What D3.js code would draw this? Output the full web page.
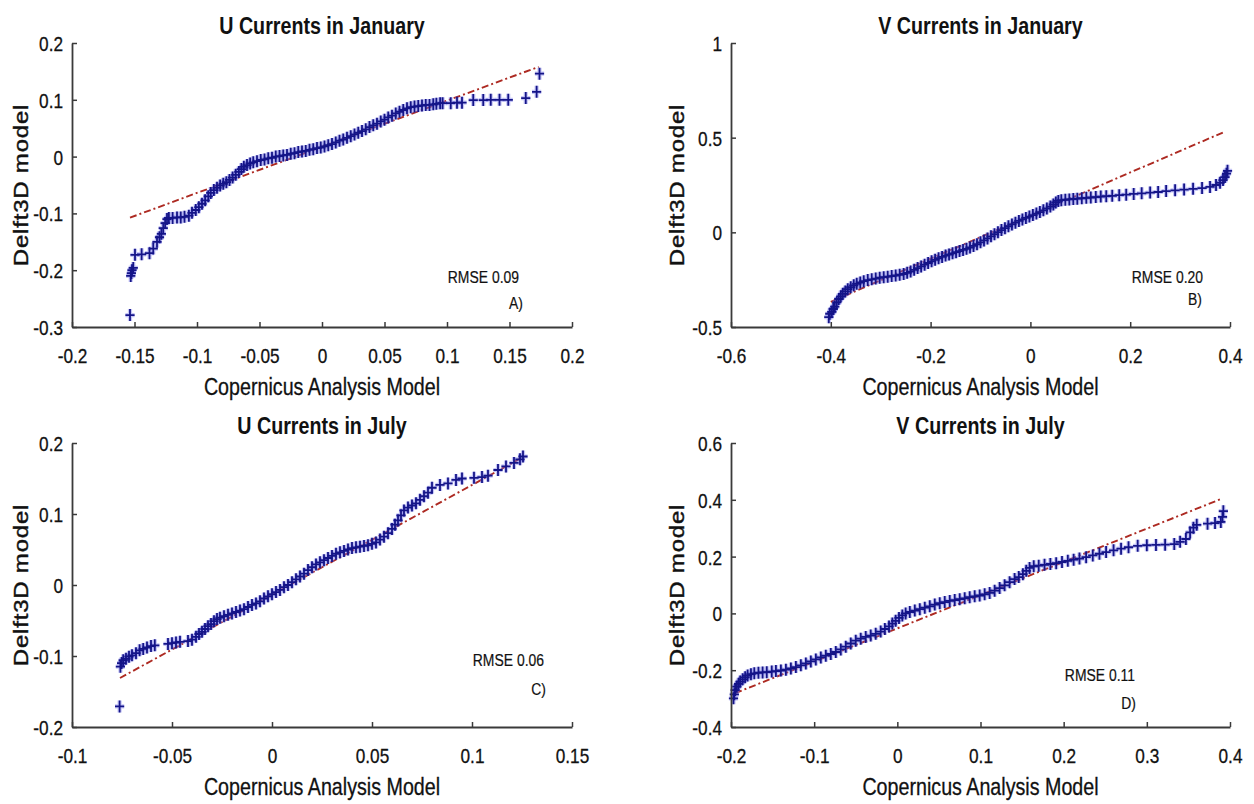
<!DOCTYPE html>
<html>
<head>
<meta charset="utf-8">
<script src="https://cdn.jsdelivr.net/npm/d3@7"></script>
<style>
  body { margin: 0; background: #ffffff; }
  svg { display: block; }
</style>
</head>
<body>
<svg id="fig" width="1254" height="804"></svg>
<script>
// ---------- labels ----------
const panelTitles  = ["U Currents in January", "V Currents in January", "U Currents in July", "V Currents in July"];
const panelLetters = ["A)", "B)", "C)", "D)"];
const rmseValues   = ["0.09", "0.20", "0.06", "0.11"];
const xAxisTitle   = "Copernicus Analysis Model";
const yAxisTitle   = "Delft3D model";

// ---------- axis ranges and ticks ----------
const xDomains = [[-0.2, 0.2], [-0.6, 0.4], [-0.1, 0.15], [-0.2, 0.4]];
const yDomains = [[-0.3, 0.2], [-0.5, 1], [-0.2, 0.2], [-0.4, 0.6]];
const xTickValues = [
  [-0.2, -0.15, -0.1, -0.05, 0, 0.05, 0.1, 0.15, 0.2],
  [-0.6, -0.4, -0.2, 0, 0.2, 0.4],
  [-0.1, -0.05, 0, 0.05, 0.1, 0.15],
  [-0.2, -0.1, 0, 0.1, 0.2, 0.3, 0.4]
];
const yTickValues = [
  [-0.3, -0.2, -0.1, 0, 0.1, 0.2],
  [-0.5, 0, 0.5, 1],
  [-0.2, -0.1, 0, 0.1, 0.2],
  [-0.4, -0.2, 0, 0.2, 0.4, 0.6]
];

// ---------- quantile pairs (Copernicus x, Delft3D y) ----------
const janU_cop = [
  -0.1536,-0.1530,-0.1525,-0.1520,-0.1510,-0.1496,-0.1443,-0.1380,-0.1350,-0.1320,-0.1300,-0.1285,-0.1270,-0.1255,-0.1240,-0.1225,-0.1195,-0.1160,-0.1130,-0.1100,-0.1065,
  -0.1040,-0.1010,-0.0985,-0.0960,-0.0935,-0.0910,-0.0890,-0.0865,-0.0840,-0.0815,
  -0.0790,-0.0765,-0.0740,-0.0715,-0.0690,-0.0665,-0.0645,-0.0625,-0.0600,-0.0575,
  -0.0550,-0.0520,-0.0490,-0.0460,-0.0430,-0.0400,-0.0370,-0.0340,-0.0310,-0.0280,
  -0.0250,-0.0220,-0.0190,-0.0160,-0.0130,-0.0100,-0.0070,-0.0040,-0.0010,0.0020,
  0.0050,0.0080,0.0110,0.0140,0.0170,0.0200,0.0230,0.0260,0.0290,0.0320,
  0.0350,0.0380,0.0410,0.0440,0.0470,0.0500,0.0530,0.0560,0.0590,0.0620,
  0.0650,0.0680,0.0710,0.0740,0.0770,0.0800,0.0830,0.0860,0.0890,0.0915,
  0.0945,0.0965,
  0.1030,0.1080,0.1120,0.1210,0.1290,0.1350,0.1420,0.1490,0.1630,0.1717,0.1740
];
const janU_d3d = [
  -0.279,-0.210,-0.205,-0.200,-0.196,-0.173,-0.172,-0.170,-0.162,-0.150,-0.142,-0.136,-0.126,-0.117,-0.110,-0.108,-0.108,-0.107,-0.107,-0.106,-0.104,
  -0.099,-0.094,-0.089,-0.083,-0.077,-0.070,-0.064,-0.059,-0.055,-0.051,
  -0.048,-0.045,-0.041,-0.037,-0.032,-0.027,-0.022,-0.018,-0.015,-0.012,
  -0.010,-0.008,-0.006,-0.005,-0.003,-0.002,0.000,0.001,0.002,0.003,
  0.005,0.006,0.008,0.009,0.010,0.012,0.013,0.015,0.016,0.018,
  0.020,0.022,0.025,0.028,0.030,0.033,0.036,0.039,0.042,0.045,
  0.048,0.052,0.055,0.058,0.062,0.065,0.069,0.072,0.076,0.079,
  0.082,0.085,0.087,0.088,0.089,0.090,0.091,0.091,0.092,0.093,
  0.094,0.094,
  0.094,0.095,0.095,0.0995,0.0995,0.100,0.100,0.100,0.103,0.114,0.146
];

const janV_cop = [
  -0.404,-0.402,-0.398,-0.395,-0.392,-0.388,-0.384,-0.380,-0.376,-0.371,
  -0.366,-0.360,-0.354,-0.348,-0.341,-0.334,-0.326,-0.318,-0.310,-0.302,
  -0.294,-0.286,-0.278,-0.270,-0.262,-0.254,-0.247,-0.240,-0.233,-0.226,
  -0.219,-0.212,-0.205,-0.198,-0.191,-0.184,-0.177,-0.170,-0.163,-0.156,
  -0.149,-0.142,-0.135,-0.128,-0.121,-0.114,-0.107,-0.100,-0.093,-0.086,
  -0.079,-0.072,-0.065,-0.058,-0.051,-0.044,-0.037,-0.030,-0.023,-0.016,
  -0.009,-0.002,0.005,0.012,0.019,0.026,0.033,0.040,0.046,0.051,
  0.056,0.062,0.070,0.078,0.086,0.094,0.103,0.112,0.121,0.131,
  0.141,0.152,0.164,0.178,0.192,0.207,0.223,0.240,0.256,0.272,
  0.290,0.308,0.326,0.344,0.360,0.372,0.380,0.386,0.390,0.393,
  0.395
];
const janV_d3d = [
  -0.448,-0.430,-0.420,-0.405,-0.392,-0.370,-0.352,-0.338,-0.325,-0.312,
  -0.300,-0.290,-0.280,-0.272,-0.265,-0.258,-0.252,-0.248,-0.244,-0.240,
  -0.237,-0.234,-0.231,-0.228,-0.224,-0.220,-0.214,-0.207,-0.198,-0.189,
  -0.180,-0.171,-0.162,-0.153,-0.145,-0.137,-0.130,-0.123,-0.117,-0.111,
  -0.105,-0.099,-0.093,-0.087,-0.080,-0.072,-0.063,-0.053,-0.043,-0.032,
  -0.021,-0.010,0.001,0.012,0.022,0.032,0.042,0.051,0.060,0.068,
  0.076,0.083,0.091,0.099,0.107,0.116,0.126,0.136,0.147,0.158,
  0.166,0.170,0.172,0.174,0.176,0.178,0.180,0.182,0.184,0.186,
  0.189,0.191,0.193,0.196,0.199,0.203,0.206,0.210,0.213,0.218,
  0.222,0.226,0.230,0.234,0.240,0.250,0.262,0.276,0.292,0.310,
  0.325
];

const julU_cop = [
  -0.0762,-0.0758,-0.0752,-0.0744,-0.0730,-0.0715,-0.0700,-0.0680,-0.0662,-0.0644,
  -0.0625,-0.0605,-0.0586,-0.0520,-0.0500,-0.0480,-0.0460,-0.0420,-0.0400,-0.0380,
  -0.0365,-0.0350,-0.0335,-0.0320,-0.0305,-0.0290,-0.0275,-0.0260,-0.0240,-0.0220,
  -0.0200,-0.0180,-0.0160,-0.0140,-0.0120,-0.0100,-0.0080,-0.0060,-0.0040,-0.0020,
  0.0000,0.0020,0.0040,0.0060,0.0080,0.0100,0.0120,0.0140,0.0160,0.0180,
  0.0200,0.0220,0.0240,0.0260,0.0280,0.0300,0.0320,0.0340,0.0360,0.0380,
  0.0400,0.0420,0.0440,0.0460,0.0480,0.0500,0.0520,0.0540,0.0560,0.0580,
  0.0600,0.0615,0.0630,0.0645,0.0660,0.0680,0.0700,0.0720,0.0740,0.0760,
  0.0780,0.0800,0.0840,0.0880,0.0920,0.0950,0.1010,0.1050,0.1080,0.1130,
  0.1170,0.1210,0.1240,0.1255
];
const julU_d3d = [
  -0.171,-0.115,-0.110,-0.106,-0.104,-0.101,-0.099,-0.096,-0.092,-0.090,
  -0.088,-0.086,-0.085,-0.083,-0.082,-0.081,-0.080,-0.079,-0.077,-0.073,
  -0.069,-0.066,-0.062,-0.058,-0.055,-0.051,-0.048,-0.046,-0.044,-0.042,
  -0.040,-0.038,-0.036,-0.034,-0.031,-0.028,-0.026,-0.023,-0.019,-0.016,
  -0.013,-0.010,-0.007,-0.003,0.000,0.004,0.008,0.012,0.016,0.021,
  0.025,0.029,0.032,0.035,0.038,0.041,0.044,0.046,0.048,0.050,
  0.052,0.053,0.054,0.055,0.056,0.058,0.060,0.064,0.068,0.073,
  0.079,0.085,0.091,0.098,0.105,0.109,0.112,0.115,0.120,0.125,
  0.130,0.137,0.141,0.143,0.148,0.150,0.151,0.152,0.154,0.162,
  0.167,0.172,0.177,0.181
];

const julV_cop = [
  -0.197,-0.196,-0.195,-0.193,-0.191,-0.189,-0.186,-0.183,-0.180,-0.176,
  -0.172,-0.167,-0.162,-0.157,-0.151,-0.146,-0.140,-0.134,-0.128,-0.122,
  -0.116,-0.110,-0.104,-0.098,-0.092,-0.086,-0.080,-0.074,-0.068,-0.062,
  -0.056,-0.050,-0.044,-0.038,-0.032,-0.026,-0.020,-0.015,-0.010,-0.006,
  -0.002,0.002,0.006,0.010,0.015,0.021,0.027,0.033,0.039,0.045,
  0.051,0.057,0.063,0.069,0.075,0.081,0.087,0.093,0.099,0.105,
  0.111,0.117,0.123,0.129,0.135,0.141,0.146,0.151,0.155,0.159,
  0.164,0.170,0.177,0.184,0.191,0.198,0.205,0.212,0.219,0.227,
  0.235,0.243,0.251,0.260,0.269,0.278,0.289,0.300,0.311,0.322,
  0.333,0.340,0.347,0.352,0.356,0.360,0.373,0.382,0.389,0.391,
  0.392
];
const julV_d3d = [
  -0.299,-0.285,-0.270,-0.258,-0.248,-0.240,-0.232,-0.225,-0.219,-0.214,
  -0.211,-0.209,-0.208,-0.207,-0.205,-0.203,-0.201,-0.198,-0.194,-0.189,
  -0.183,-0.176,-0.169,-0.162,-0.155,-0.149,-0.143,-0.136,-0.127,-0.117,
  -0.106,-0.096,-0.089,-0.083,-0.078,-0.072,-0.064,-0.055,-0.046,-0.036,
  -0.026,-0.016,-0.007,0.000,0.005,0.010,0.015,0.020,0.025,0.031,
  0.036,0.040,0.044,0.047,0.050,0.053,0.057,0.060,0.063,0.067,
  0.072,0.080,0.089,0.099,0.110,0.121,0.128,0.138,0.150,0.160,
  0.166,0.168,0.171,0.174,0.177,0.181,0.185,0.189,0.193,0.198,
  0.204,0.210,0.216,0.222,0.228,0.233,0.238,0.240,0.241,0.242,
  0.244,0.252,0.262,0.285,0.302,0.312,0.316,0.318,0.322,0.340,
  0.360
];

// ---------- reference lines (end points) ----------
const refLineX = [[-0.1536, 0.1733], [-0.400, 0.389], [-0.076, 0.126], [-0.195, 0.391]];
const refLineY = [[-0.1075, 0.158], [-0.367, 0.531], [-0.131, 0.181], [-0.281, 0.405]];

const copSeries = [janU_cop, janV_cop, julU_cop, julV_cop];
const d3dSeries = [janU_d3d, janV_d3d, julU_d3d, julV_d3d];

// ---------- layout ----------
const SQ = 0.82;                       // condensed lettering
const FONT = "'Liberation Sans', Arial, Helvetica, sans-serif";
const layout = [
  { x0: 72,  x1: 572,  y0: 43,  y1: 327, yLabX: 28,  rmse: [519, 283],  tag: [523, 309] },
  { x0: 731, x1: 1230, y0: 43,  y1: 327, yLabX: 684, rmse: [1203, 283], tag: [1202, 305] },
  { x0: 72,  x1: 572,  y0: 443, y1: 727, yLabX: 28,  rmse: [544, 666],  tag: [546, 695] },
  { x0: 731, x1: 1230, y0: 443, y1: 727, yLabX: 684, rmse: [1135, 681], tag: [1136, 709] }
];
const axisColor = "#3a3a3a";
const markColor = "#141488";
const haloColor = "#6e6ee8";
const lineColor = "#ad2a22";

const svg = d3.select("#fig");
svg.append("rect").attr("width", 1254).attr("height", 804).attr("fill", "#fff");

function addText(g, x, y, str, size, opts = {}) {
  return g.append("text")
    .attr("transform", `translate(${x},${y}) scale(${SQ},1)` + (opts.rotate ? " rotate(-90)" : ""))
    .attr("text-anchor", opts.anchor || "middle")
    .attr("font-family", FONT)
    .attr("font-size", size)
    .attr("font-weight", opts.bold ? "bold" : "normal")
    .attr("letter-spacing", opts.spacing || 0)
    .attr("fill", "#111")
    .attr("stroke", opts.weight ? "#111" : "none")
    .attr("stroke-width", opts.weight || 0)
    .text(str);
}

const plusPath = "M-4.6,0H4.6M0,-6V6";

layout.forEach((L, i) => {
  const g = svg.append("g");
  const sx = d3.scaleLinear().domain(xDomains[i]).range([L.x0, L.x1]);
  const sy = d3.scaleLinear().domain(yDomains[i]).range([L.y1, L.y0]);

  // reference line (dash-dot)
  const refPts = d3.zip(refLineX[i], refLineY[i]);
  g.append("path")
    .attr("d", d3.line().x(d => sx(d[0])).y(d => sy(d[1]))(refPts))
    .attr("fill", "none")
    .attr("stroke", lineColor)
    .attr("stroke-width", 1.9)
    .attr("stroke-dasharray", "7,3,2,3");

  // quantile markers, soft halo under a dark stroke
  const pts = d3.zip(copSeries[i], d3dSeries[i]);
  g.append("g").selectAll("path").data(pts).join("path")
    .attr("transform", d => `translate(${sx(d[0])},${sy(d[1])})`)
    .attr("d", plusPath)
    .attr("fill", "none")
    .attr("stroke", haloColor)
    .attr("stroke-opacity", 0.4)
    .attr("stroke-width", 4.2);
  g.append("g").selectAll("path").data(pts).join("path")
    .attr("transform", d => `translate(${sx(d[0])},${sy(d[1])})`)
    .attr("d", plusPath)
    .attr("fill", "none")
    .attr("stroke", markColor)
    .attr("stroke-width", 1.8);

  // axes (ticks pointing inward)
  const fmt = d => String(d);
  const gx = g.append("g").attr("transform", `translate(0,${L.y1})`)
    .call(d3.axisBottom(sx).tickValues(xTickValues[i]).tickFormat(fmt).tickSizeInner(-5).tickSizeOuter(0));
  const gy = g.append("g").attr("transform", `translate(${L.x0},0)`)
    .call(d3.axisLeft(sy).tickValues(yTickValues[i]).tickFormat(fmt).tickSizeInner(-5).tickSizeOuter(0));
  [gx, gy].forEach(a => {
    a.attr("font-family", null).attr("font-size", null);
    a.select(".domain").attr("stroke", axisColor).attr("stroke-width", 1.8);
    a.selectAll(".tick line").attr("stroke", axisColor).attr("stroke-width", 1.5);
    a.selectAll(".tick text")
      .attr("font-family", FONT).attr("font-size", 21).attr("fill", "#111")
      .attr("stroke", "#111").attr("stroke-width", 0.3);
  });
  gx.selectAll(".tick text")
    .attr("y", null).attr("dy", null)
    .attr("transform", `translate(0,36) scale(${SQ},1)`);
  gy.selectAll(".tick text")
    .attr("x", null).attr("dy", "0.36em")
    .attr("transform", `translate(-9,0) scale(${SQ},1)`);

  // titles and annotations
  const cx = (L.x0 + L.x1) / 2;
  addText(g, cx, L.y0 - 9, panelTitles[i], 24, { bold: true });
  addText(g, cx, L.y1 + 68, xAxisTitle, 24, { weight: 0.3 });
  addText(g, L.yLabX, (L.y0 + L.y1) / 2, yAxisTitle, 24, { rotate: true, spacing: 0.8, weight: 0.5 });
  addText(g, L.rmse[0], L.rmse[1], "RMSE " + rmseValues[i], 17, { anchor: "end", weight: 0.2 });
  addText(g, L.tag[0], L.tag[1], panelLetters[i], 17, { anchor: "end", weight: 0.2 });
});
</script>
</body>
</html>
